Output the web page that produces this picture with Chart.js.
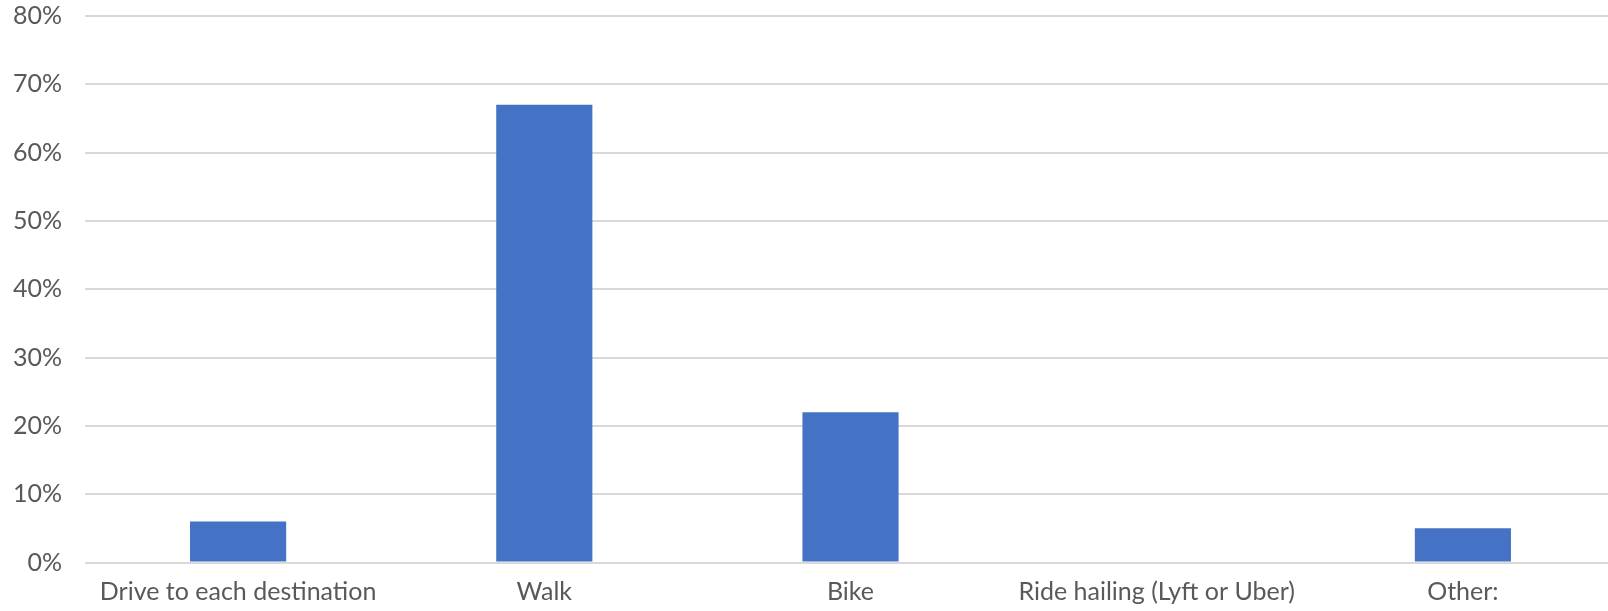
<!DOCTYPE html>
<html>
<head>
<meta charset="utf-8">
<script src="https://cdn.jsdelivr.net/npm/chart.js@4/dist/chart.umd.min.js"></script>
<style>
  html, body { margin: 0; padding: 0; background: #fff; overflow: hidden; }
  #wrap { width: 1616px; height: 611px; position: relative; }
</style>
</head>
<body>
<div id="wrap"><canvas id="c" width="1616" height="611"></canvas></div>
<script>
const categories = ["Drive to each destination", "Walk", "Bike", "Ride hailing (Lyft or Uber)", "Other:"];
const values = [6, 67, 22, 0, 5];
const yTickMax = 80;
const yTickStep = 10;

new Chart(document.getElementById('c'), {
  type: 'bar',
  data: {
    labels: categories,
    datasets: [{
      data: values,
      backgroundColor: '#4472C4',
      borderWidth: 0,
      categoryPercentage: 1.0,
      barPercentage: 0.314
    }]
  },
  options: {
    responsive: false,
    animation: false,
    devicePixelRatio: 1,
    layout: { padding: { top: 16, left: 0, right: 0, bottom: 0 } },
    plugins: { legend: { display: false }, tooltip: { enabled: false } },
    scales: {
      x: {
        grid: { display: false, drawTicks: false },
        border: { display: false },
        ticks: {
          color: '#595959',
          font: { family: 'Lato', size: 25 },
          padding: 14,
          maxRotation: 0,
          autoSkip: false
        },
        afterFit: (s) => { s.height = 48.5; }
      },
      y: {
        min: 0,
        max: yTickMax,
        grid: { color: '#D9D9D9', lineWidth: 2, drawTicks: false },
        border: { display: false },
        ticks: {
          stepSize: yTickStep,
          color: '#595959',
          font: { family: 'Lato', size: 25, lineHeight: 0.4 },
          padding: 23,
          callback: (v) => v + '%'
        },
        afterFit: (s) => { s.width = 85; s.paddingTop = 0; s.paddingBottom = 0; }
      }
    }
  }
});
</script>
</body>
</html>
